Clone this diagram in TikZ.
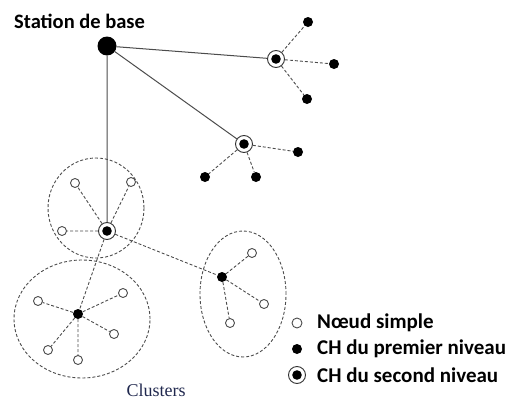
\documentclass[tikz,border=0pt]{standalone}
\usepackage{fontspec}
\setmainfont{Carlito}
\newfontfamily\clusterfont{Liberation Serif}
\usetikzlibrary{shapes,positioning,calc}
\definecolor{clusterblue}{RGB}{32,40,78}

\begin{document}
\begin{tikzpicture}
  [x=1pt,y=-1pt,
   simpleN/.style={circle,draw=black!70,fill=white,minimum size=9pt,inner sep=0pt,line width=0.9pt},
   firstN/.style={circle,fill=black,minimum size=10pt,inner sep=0pt},
   secondN/.style={circle,draw=black!80,fill=white,minimum size=17pt,inner sep=0pt,line width=0.9pt,
     path picture={\fill[black] (path picture bounding box.center) circle (4.8pt);}},
   baseN/.style={circle,fill=black,minimum size=19pt,inner sep=0pt},
   solidE/.style={draw=black!70,line width=1pt},
   dashE/.style={draw=black!70,line width=0.9pt,dash pattern=on 3pt off 2pt},
   clusterE/.style={ellipse,draw=black!70,line width=0.9pt,dash pattern=on 3pt off 2pt,inner sep=0pt},
   legendT/.style={font=\bfseries\fontsize{21}{24}\selectfont,anchor=west,inner sep=0pt},
   node distance=20pt]

  \useasboundingbox (0,0) rectangle (509,399);

  % clusters
  \node[clusterE,minimum width=96pt,minimum height=100pt]  (cl1) at (96,208)  {};
  \node[clusterE,minimum width=136pt,minimum height=118pt] (cl2) at (82,319)  {};
  \node[clusterE,minimum width=86pt,minimum height=126pt]  (cl3) at (243,294) {};

  % base station
  \node[baseN] (bs) at (107,46) {};
  \node[font=\bfseries\fontsize{20.5}{23}\selectfont,anchor=south west,inner sep=0pt] (bsT) at (14,29) {Station de base};

  % second level heads
  \node[secondN] (s1) at (276,59)  {};
  \node[secondN] (s2) at (244,144) {};
  \node[secondN] (s3) at (107,231) {};

  % first level heads
  \node[firstN] (f1) at (308,22)  {};
  \node[firstN] (f2) at (334,64)  {};
  \node[firstN] (f3) at (307,99)  {};
  \node[firstN] (f4) at (298,152) {};
  \node[firstN] (f5) at (205,177) {};
  \node[firstN] (f6) at (256,177) {};
  \node[firstN] (f7) at (78,314)  {};
  \node[firstN] (f8) at (222,277) {};

  % simple nodes
  \node[simpleN] (n1)  at (75,183)  {};
  \node[simpleN] (n2)  at (131,182) {};
  \node[simpleN] (n3)  at (62,231)  {};
  \node[simpleN] (n4)  at (38,301)  {};
  \node[simpleN] (n5)  at (123,293) {};
  \node[simpleN] (n6)  at (114,334) {};
  \node[simpleN] (n7)  at (48,350)  {};
  \node[simpleN] (n8)  at (78,360)  {};
  \node[simpleN] (n9)  at (252,253) {};
  \node[simpleN] (n10) at (264,304) {};
  \node[simpleN] (n11) at (230,323) {};

  % links
  \path[solidE] (bs) -- (s1) (bs) -- (s2) (bs) -- (s3);
  \path[dashE] (s1) -- (f1) (s1) -- (f2) (s1) -- (f3);
  \path[dashE] (s2) -- (f4) (s2) -- (f5) (s2) -- (f6);
  \path[dashE] (s3) -- (n1) (s3) -- (n2) (s3) -- (n3);
  \path[dashE] (s3) -- (f7) (s3) -- (f8);
  \path[dashE] (f7) -- (n4) (f7) -- (n5) (f7) -- (n6) (f7) -- (n7) (f7) -- (n8);
  \path[dashE] (f8) -- (n9) (f8) -- (n10) (f8) -- (n11);

  \node[font=\clusterfont\fontsize{18}{20}\selectfont,text=clusterblue] (clT) at (156,390) {Clusters};

  % legend
  \node[simpleN,minimum size=10pt] (lg1) at (297,323) {};
  \node[firstN] (lg2) at (297,349) {};
  \node[secondN] (lg3) at (297,375) {};
  \node[legendT] (lg1T) [right=of lg1.center] {Nœud simple};
  \node[legendT] (lg2T) [right=of lg2.center] {CH du premier niveau};
  \node[legendT] (lg3T) [right=of lg3.center] {CH du second niveau};

\end{tikzpicture}
\end{document}
